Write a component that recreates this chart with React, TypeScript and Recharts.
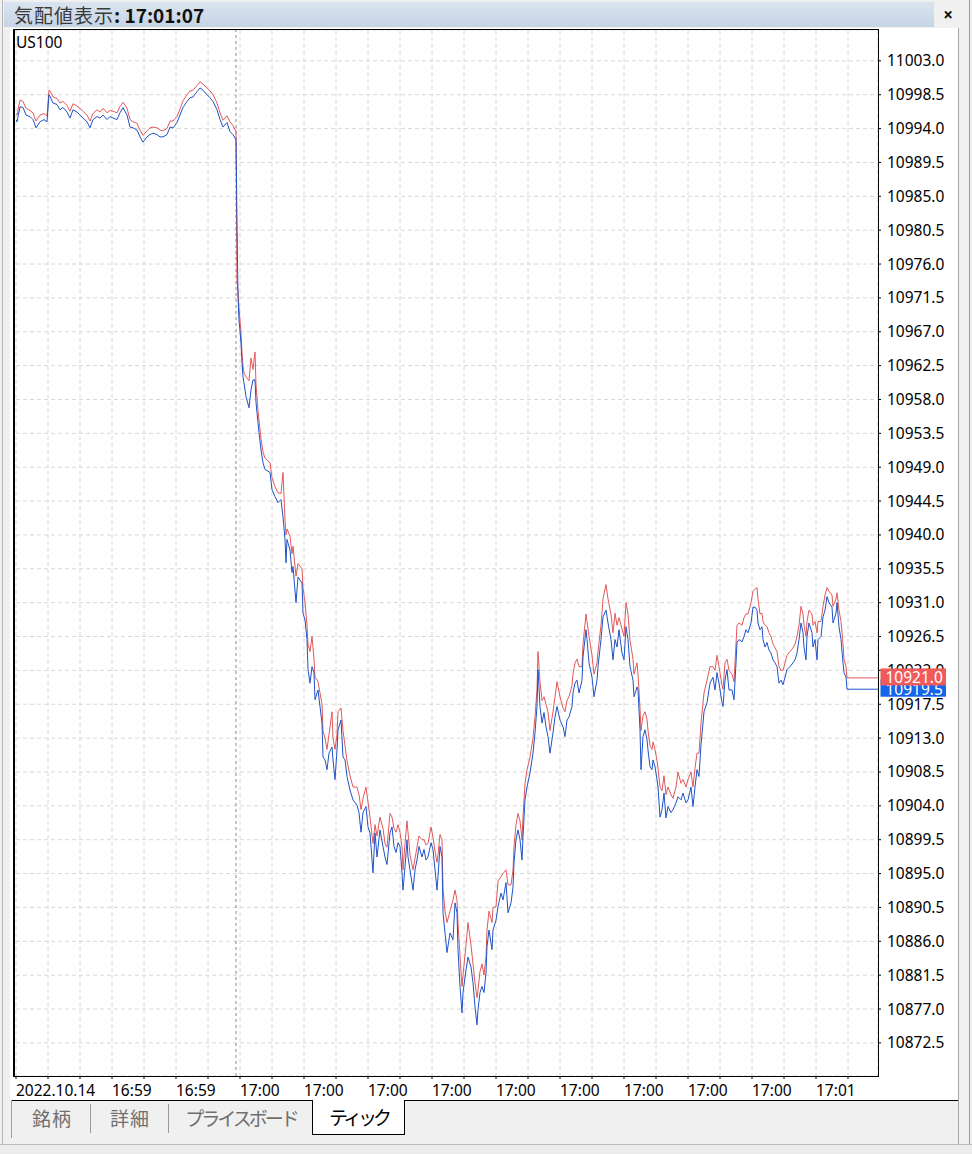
import React from 'react';
import { LineChart, Line, XAxis, YAxis, CartesianGrid, ReferenceLine } from 'recharts';

const FONT = '"Noto Sans", "Open Sans", sans-serif';
const CJK = '"Noto Sans CJK JP", "Noto Sans", sans-serif';

// tick number (sequence position of each sampled quote)
const tickNo = [
  0, 1, 4, 7, 10, 14, 17, 20, 24, 28,
  31, 33, 34, 37, 41, 44, 47, 51, 54, 57,
  61, 64, 67, 71, 74, 77, 81, 84, 87, 91,
  94, 97, 101, 104, 107, 111, 114, 117, 121, 124,
  127, 131, 134, 137, 141, 144, 147, 151, 154, 157,
  161, 164, 167, 171, 174, 177, 181, 184, 187, 191,
  194, 197, 201, 204, 207, 211, 214, 217, 220, 221,
  222, 223, 225, 226, 227, 228, 230, 233, 235, 237,
  239, 240, 242, 243, 245, 247, 249, 254, 256, 259,
  262, 265, 267, 269, 270, 271, 274, 276, 277, 280,
  282, 286, 287, 289, 291, 292, 294, 296, 298, 299,
  301, 302, 304, 306, 307, 309, 311, 313, 316, 317,
  319, 321, 322, 325, 327, 329, 331, 334, 337, 341,
  343, 345, 347, 350, 352, 354, 357, 359, 361, 364,
  367, 369, 371, 374, 376, 378, 380, 382, 384, 386,
  387, 389, 391, 392, 394, 397, 399, 401, 403, 406,
  408, 410, 412, 415, 417, 419, 421, 422, 424, 426,
  427, 429, 431, 434, 437, 439, 441, 442, 444, 446,
  447, 450, 452, 455, 457, 459, 461, 462, 464, 466,
  468, 470, 471, 473, 476, 477, 480, 482, 485, 487,
  490, 492, 495, 497, 498, 500, 502, 504, 506, 507,
  509, 511, 514, 517, 519, 521, 522, 524, 526, 528,
  530, 532, 534, 537, 539, 541, 544, 547, 549, 551,
  553, 556, 557, 559, 561, 563, 566, 567, 570, 571,
  573, 576, 578, 581, 582, 585, 587, 590, 592, 595,
  597, 599, 601, 603, 606, 608, 610, 612, 614, 617,
  618, 621, 622, 624, 625, 627, 629, 631, 632, 634,
  636, 637, 639, 641, 642, 644, 646, 648, 650, 652,
  655, 657, 660, 662, 665, 667, 670, 672, 675, 677,
  679, 681, 683, 685, 688, 691, 694, 697, 699, 701,
  703, 706, 707, 709, 711, 713, 716, 718, 720, 721,
  723, 726, 728, 730, 732, 735, 737, 739, 741, 742,
  744, 746, 747, 749, 751, 753, 755, 757, 759, 761,
  763, 765, 767, 769, 771, 774, 777, 779, 781, 783,
  785, 787, 788, 790, 791, 793, 796, 797, 799, 801,
  802, 805, 807, 809, 811, 813, 816, 817, 820, 821,
  823, 825, 827, 828, 830, 831,
];

const bidPrice = [
  10995.2, 10994.9, 10996.9, 10996.8, 10995.8, 10995.6, 10995.2, 10994.1, 10994.9, 10995.2,
  10994.9, 10998.5, 10998.3, 10997.4, 10997.2, 10996.5, 10996.8, 10996.2, 10995.4, 10996.5,
  10996.2, 10995.8, 10995.4, 10994.9, 10994.1, 10995.2, 10995.6, 10995.4, 10995.8, 10995.2,
  10995.6, 10995.4, 10995.2, 10996.1, 10996.8, 10995.8, 10994.2, 10994.1, 10993.8, 10992.9,
  10992.2, 10992.9, 10993.2, 10993.4, 10993.2, 10992.9, 10992.9, 10993.2, 10994.2, 10994.1,
  10994.8, 10995.8, 10996.8, 10997.6, 10998.1, 10998.2, 10998.9, 10999.4, 10999.1, 10998.5,
  10998.1, 10997.6, 10996.5, 10995.2, 10994.2, 10994.8, 10993.6, 10993.2, 10992.5, 10981.5,
  10971.6, 10968.6, 10965.5, 10962.9, 10961.0, 10960.2, 10958.4, 10956.9, 10959.3, 10960.6,
  10960.6, 10957.6, 10954.9, 10953.6, 10951.3, 10949.6, 10948.7, 10948.3, 10946.0, 10945.1,
  10944.3, 10944.7, 10942.4, 10939.4, 10936.3, 10939.4, 10938.0, 10935.0, 10935.8, 10931.0,
  10934.4, 10933.6, 10929.6, 10928.7, 10926.1, 10922.1, 10920.3, 10922.5, 10921.7, 10918.1,
  10919.0, 10919.4, 10917.2, 10915.0, 10910.5, 10910.1, 10908.8, 10911.0, 10911.8, 10910.1,
  10907.5, 10911.4, 10914.1, 10915.4, 10910.5, 10910.1, 10907.9, 10906.1, 10904.8, 10904.1,
  10903.1, 10900.5, 10903.1, 10903.9, 10901.2, 10900.4, 10895.1, 10900.4, 10897.2, 10900.8,
  10898.6, 10897.2, 10896.2, 10900.4, 10901.2, 10898.6, 10897.8, 10899.1, 10898.6, 10895.1,
  10892.8, 10895.9, 10899.5, 10897.2, 10895.5, 10892.8, 10895.5, 10896.8, 10898.6, 10897.2,
  10898.2, 10896.8, 10897.2, 10899.1, 10898.2, 10895.5, 10892.8, 10894.6, 10898.6, 10897.2,
  10889.8, 10887.1, 10884.5, 10887.1, 10886.2, 10891.1, 10889.8, 10884.9, 10880.0, 10876.5,
  10879.2, 10882.2, 10883.9, 10882.6, 10880.5, 10877.3, 10874.9, 10876.9, 10879.2, 10880.0,
  10879.2, 10881.8, 10885.3, 10887.5, 10884.9, 10887.5, 10888.8, 10890.6, 10892.4, 10891.5,
  10893.8, 10889.8, 10891.1, 10893.2, 10896.4, 10899.5, 10900.8, 10899.5, 10896.8, 10899.9,
  10904.8, 10906.5, 10908.4, 10911.0, 10913.7, 10917.2, 10922.1, 10917.2, 10915.0, 10916.4,
  10914.5, 10913.2, 10911.0, 10913.7, 10915.8, 10917.2, 10915.4, 10914.5, 10913.2, 10915.4,
  10915.8, 10917.2, 10919.0, 10920.3, 10920.7, 10919.0, 10920.7, 10923.8, 10927.4, 10926.1,
  10923.0, 10921.1, 10918.5, 10920.7, 10922.5, 10926.1, 10929.1, 10930.0, 10928.3, 10926.1,
  10923.4, 10926.1, 10925.1, 10927.4, 10924.3, 10923.4, 10927.8, 10926.1, 10922.5, 10920.7,
  10918.5, 10919.8, 10919.4, 10914.1, 10908.8, 10913.2, 10914.1, 10912.8, 10911.4, 10909.2,
  10908.8, 10910.1, 10909.2, 10907.5, 10906.5, 10902.5, 10903.5, 10905.7, 10902.4, 10903.9,
  10903.1, 10903.5, 10904.4, 10905.2, 10904.8, 10905.7, 10904.4, 10904.8, 10906.5, 10903.9,
  10906.5, 10908.8, 10907.9, 10912.1, 10916.5, 10917.7, 10920.3, 10921.1, 10919.4, 10921.7,
  10920.3, 10917.7, 10917.2, 10920.7, 10922.1, 10919.4, 10919.4, 10918.1, 10923.0, 10925.7,
  10926.1, 10925.8, 10926.5, 10927.4, 10927.0, 10928.3, 10930.4, 10930.4, 10930.0, 10928.3,
  10927.4, 10927.8, 10926.1, 10925.1, 10925.7, 10924.7, 10924.3, 10923.4, 10923.0, 10922.5,
  10920.3, 10920.7, 10920.1, 10921.1, 10922.1, 10922.5, 10923.0, 10923.4, 10924.3, 10926.1,
  10928.3, 10927.0, 10925.1, 10923.4, 10926.5, 10928.3, 10927.0, 10925.1, 10926.1, 10923.4,
  10926.1, 10926.5, 10929.1, 10930.0, 10931.8, 10931.0, 10930.4, 10928.3, 10929.6, 10931.0,
  10927.8, 10926.1, 10923.0, 10921.7, 10921.1, 10919.5,
];

const askPrice = [
  10996.0, 10995.8, 10997.8, 10997.6, 10996.7, 10996.4, 10996.1, 10995.0, 10995.8, 10996.0,
  10995.7, 10999.1, 10999.0, 10998.2, 10998.0, 10997.4, 10997.6, 10997.1, 10996.3, 10997.3,
  10997.0, 10996.7, 10996.3, 10995.8, 10995.0, 10996.0, 10996.5, 10996.2, 10996.7, 10996.1,
  10996.4, 10996.3, 10996.1, 10996.9, 10997.5, 10996.7, 10995.2, 10994.9, 10994.7, 10993.8,
  10993.1, 10993.7, 10994.1, 10994.2, 10994.1, 10993.8, 10993.7, 10994.0, 10995.0, 10995.0,
  10995.6, 10996.6, 10997.7, 10998.5, 10999.0, 10999.1, 10999.7, 11000.2, 10999.9, 10999.4,
  10999.0, 10998.5, 10997.4, 10996.1, 10995.1, 10995.7, 10994.9, 10994.4, 10993.6, 10973.5,
  10972.5, 10970.2, 10966.8, 10964.2, 10962.5, 10961.5, 10961.0, 10960.5, 10963.5, 10962.0,
  10964.3, 10960.0, 10956.5, 10955.2, 10952.8, 10951.0, 10950.2, 10949.6, 10947.6, 10946.4,
  10945.6, 10945.5, 10948.3, 10942.0, 10940.0, 10940.8, 10939.8, 10937.5, 10938.5, 10934.5,
  10936.2, 10935.5, 10933.0, 10931.0, 10928.0, 10925.5, 10924.5, 10926.5, 10923.5, 10921.0,
  10920.8, 10920.5, 10919.0, 10917.5, 10914.0, 10913.0, 10911.5, 10913.5, 10916.5, 10913.0,
  10911.5, 10913.5, 10916.5, 10917.0, 10914.0, 10912.0, 10910.0, 10908.0, 10906.5, 10906.5,
  10905.5, 10903.5, 10905.0, 10906.5, 10904.5, 10902.5, 10899.0, 10901.5, 10900.0, 10902.5,
  10901.0, 10899.0, 10898.5, 10903.0, 10902.5, 10901.0, 10900.5, 10901.5, 10900.5, 10898.5,
  10895.5, 10899.0, 10902.0, 10900.5, 10897.5, 10895.5, 10897.0, 10898.5, 10900.0, 10899.5,
  10899.5, 10898.8, 10899.0, 10901.2, 10899.8, 10898.0, 10896.5, 10897.5, 10900.2, 10899.5,
  10893.0, 10890.0, 10888.5, 10890.0, 10891.5, 10892.8, 10891.5, 10888.5, 10884.0, 10880.0,
  10881.5, 10885.5, 10888.5, 10885.5, 10883.0, 10880.5, 10878.5, 10879.5, 10882.0, 10883.0,
  10881.5, 10884.0, 10887.5, 10890.0, 10888.5, 10890.5, 10890.6, 10894.0, 10894.6, 10895.0,
  10895.5, 10893.5, 10893.5, 10895.5, 10898.6, 10901.5, 10903.0, 10902.0, 10899.5, 10902.5,
  10907.0, 10908.8, 10910.5, 10913.0, 10915.8, 10919.5, 10924.5, 10920.5, 10918.0, 10918.5,
  10917.5, 10916.5, 10914.0, 10916.5, 10918.5, 10920.5, 10918.5, 10917.0, 10916.5, 10918.0,
  10918.5, 10920.0, 10921.5, 10923.0, 10923.5, 10922.5, 10922.5, 10925.5, 10929.5, 10928.5,
  10926.5, 10924.0, 10921.5, 10923.0, 10924.5, 10928.0, 10931.5, 10933.4, 10931.5, 10929.5,
  10927.0, 10929.6, 10928.0, 10929.0, 10927.5, 10926.5, 10931.0, 10929.5, 10926.0, 10923.5,
  10921.5, 10923.0, 10921.5, 10917.0, 10914.0, 10916.0, 10916.5, 10915.5, 10914.0, 10912.0,
  10911.5, 10912.5, 10911.5, 10910.0, 10909.0, 10906.5, 10906.0, 10908.0, 10905.5, 10906.5,
  10905.5, 10905.0, 10906.5, 10908.5, 10907.0, 10907.5, 10906.5, 10907.5, 10908.5, 10906.5,
  10909.0, 10911.0, 10911.0, 10915.0, 10919.0, 10920.7, 10922.5, 10922.5, 10922.0, 10924.0,
  10922.5, 10920.0, 10919.5, 10923.0, 10923.5, 10922.0, 10921.5, 10920.5, 10925.5, 10928.0,
  10928.3, 10928.0, 10929.0, 10929.5, 10929.5, 10931.0, 10932.5, 10932.8, 10933.0, 10931.5,
  10929.5, 10929.6, 10928.5, 10928.0, 10927.8, 10927.0, 10926.5, 10925.5, 10925.0, 10924.5,
  10922.5, 10922.0, 10922.0, 10923.0, 10924.0, 10924.5, 10925.0, 10925.5, 10926.5, 10928.0,
  10930.5, 10929.5, 10928.0, 10926.5, 10928.5, 10930.0, 10929.5, 10928.0, 10928.5, 10927.0,
  10928.5, 10928.5, 10930.5, 10932.0, 10933.0, 10932.5, 10932.0, 10930.5, 10931.5, 10932.3,
  10930.0, 10928.5, 10925.5, 10923.5, 10922.5, 10921.0,
];

const priceTicks = [
  11003.0, 10998.5, 10994.0, 10989.5, 10985.0, 10980.5, 10976.0, 10971.5, 10967.0, 10962.5,
  10958.0, 10953.5, 10949.0, 10944.5, 10940.0, 10935.5, 10931.0, 10926.5, 10922.0, 10917.5,
  10913.0, 10908.5, 10904.0, 10899.5, 10895.0, 10890.5, 10886.0, 10881.5, 10877.0, 10872.5,
];

const timeTicks = [
  0, 32, 64, 96, 128, 160, 192, 224, 256, 288, 320, 352, 384, 416,
  448, 480, 512, 544, 576, 608, 640, 672, 704, 736, 768, 800, 832,
];

const timeLabels = [
  '2022.10.14', '', '', '16:59', '', '16:59', '', '17:00', '', '17:00', '', '17:00', '', '17:00',
  '', '17:00', '', '17:00', '', '17:00', '', '17:00', '', '17:00', '', '17:01', '',
];

const TICK_MAX = 862;
const PRICE_MIN = 10868.1;
const PRICE_MAX = 11007.1;
const SESSION_SEPARATOR = 220;

const rows = tickNo.map((t, i) => ({ tick: t, bid: bidPrice[i], ask: askPrice[i] }));
const lastTick = tickNo[tickNo.length - 1];
const lastBid = bidPrice[bidPrice.length - 1];
const lastAsk = askPrice[askPrice.length - 1];

const RED = '#e2585a';
const BLUE = '#1f52c8';

const TimeTick = (props: any) => {
  const { x, y, payload } = props;
  const idx = timeTicks.indexOf(payload.value);
  const label = idx >= 0 ? timeLabels[idx] : '';
  if (!label) return null;
  return (
    <text x={x} y={y} dy={15} textAnchor="start" fill="#000" fontSize={15.5} fontFamily={FONT}>
      {label}
    </text>
  );
};

const PriceTag = (props: any) => {
  const { viewBox, text, fill } = props;
  if (!viewBox) return null;
  const x = viewBox.x + viewBox.width + 2.5;
  const y = viewBox.y;
  return (
    <g>
      <rect x={x} y={y - 9.5} width={65.5} height={17} fill={fill} />
      <text x={x + 5} y={y + 5.5} fill="#fff" fontSize={15.5} fontFamily={FONT}>
        {text}
      </text>
    </g>
  );
};

export default function App() {
  return (
    <div
      style={{
        position: 'absolute',
        left: 0,
        top: 0,
        width: 972,
        height: 1154,
        background: '#f0f0f0',
        overflow: 'hidden',
        fontFamily: FONT,
      }}
    >
      {/* white panel */}
      <div style={{ position: 'absolute', left: 10, top: 28, width: 948, height: 1072, background: '#fff' }} />
      {/* left outer border */}
      <div style={{ position: 'absolute', left: 2, top: 0, width: 1, height: 1145, background: '#b4b4b4' }} />
      {/* right borders */}
      <div style={{ position: 'absolute', left: 958, top: 28, width: 1, height: 1116, background: '#a8a8a8' }} />
      <div style={{ position: 'absolute', left: 969, top: 0, width: 1, height: 1145, background: '#9a9a9a' }} />
      {/* bottom border */}
      <div style={{ position: 'absolute', left: 0, top: 1144, width: 972, height: 1, background: '#bcbcbc' }} />
      <div style={{ position: 'absolute', left: 0, top: 1145, width: 972, height: 9, background: '#ececec' }} />

      <div style={{ position: 'absolute', left: 0, top: 0 }}>
        <LineChart
          width={972}
          height={1154}
          data={rows}
          margin={{ top: 30, right: 0, bottom: 0, left: 16 }}
        >
          <CartesianGrid stroke="#d8d8d8" strokeDasharray="4 3" />
          <XAxis
            dataKey="tick"
            type="number"
            domain={[0, TICK_MAX]}
            ticks={timeTicks}
            interval={0}
            allowDataOverflow
            axisLine={false}
            tickLine={{ stroke: '#000' }}
            tickSize={3}
            tickMargin={2}
            height={78}
            tick={<TimeTick />}
          />
          <YAxis
            orientation="right"
            type="number"
            domain={[PRICE_MIN, PRICE_MAX]}
            ticks={priceTicks}
            interval={0}
            allowDataOverflow
            width={94}
            axisLine={false}
            tickLine={{ stroke: '#000' }}
            tickSize={3}
            tickMargin={6}
            tick={{ fill: '#000', fontSize: 15.5, fontFamily: FONT }}
            tickFormatter={(v: number) => v.toFixed(1)}
          />
          <ReferenceLine x={SESSION_SEPARATOR} stroke="#8a8a8a" strokeDasharray="3 3" />
          <Line
            type="linear"
            dataKey="ask"
            stroke={RED}
            strokeWidth={1}
            dot={false}
            activeDot={false}
            isAnimationActive={false}
          />
          <Line
            type="linear"
            dataKey="bid"
            stroke={BLUE}
            strokeWidth={1}
            dot={false}
            activeDot={false}
            isAnimationActive={false}
          />
        </LineChart>
      </div>

      {/* overlay chart: current price lines and tags drawn above the price axis */}
      <div style={{ position: 'absolute', left: 0, top: 0, pointerEvents: 'none' }}>
        <LineChart
          width={972}
          height={1154}
          data={rows}
          margin={{ top: 30, right: 94, bottom: 78, left: 16 }}
        >
          <XAxis dataKey="tick" type="number" domain={[0, TICK_MAX]} allowDataOverflow hide />
          <YAxis type="number" domain={[PRICE_MIN, PRICE_MAX]} allowDataOverflow hide />
          <ReferenceLine
            segment={[{ x: lastTick, y: lastBid }, { x: TICK_MAX, y: lastBid }]}
            stroke={BLUE}
            strokeWidth={1}
            label={<PriceTag text={lastBid.toFixed(1)} fill="#1565eb" />}
          />
          <ReferenceLine
            segment={[{ x: lastTick, y: lastAsk }, { x: TICK_MAX, y: lastAsk }]}
            stroke={RED}
            strokeWidth={1}
            label={<PriceTag text={lastAsk.toFixed(1)} fill="#ef5b5b" />}
          />
        </LineChart>
      </div>

      {/* chart frame */}
      <div
        style={{
          position: 'absolute',
          left: 13,
          top: 29,
          width: 866,
          height: 1048,
          boxSizing: 'border-box',
          borderTop: '1px solid #000',
          borderRight: '1px solid #000',
          borderBottom: '1px solid #000',
          borderLeft: '2px solid #000',
          pointerEvents: 'none',
        }}
      />
      <div style={{ position: 'absolute', left: 16, top: 32, fontSize: 15.5, fontFamily: FONT, color: '#000', lineHeight: '20px' }}>
        US100
      </div>

      {/* title bar */}
      <div
        style={{
          position: 'absolute',
          left: 4,
          top: 2,
          width: 930,
          height: 25,
          background: 'linear-gradient(#dae4f0, #c6d4e6)',
        }}
      />
      <div
        style={{
          position: 'absolute',
          left: 14,
          top: 1,
          height: 27,
          lineHeight: '27px',
          fontSize: 19,
          fontFamily: CJK,
          color: '#3a3a3a',
          whiteSpace: 'nowrap',
        }}
      >
        <span style={{ letterSpacing: 1 }}>気配値表示</span>
        <span style={{ fontWeight: 700, color: '#111' }}>: 17:01:07</span>
      </div>
      <div
        style={{
          position: 'absolute',
          left: 939,
          top: 2,
          width: 18,
          height: 25,
          lineHeight: '25px',
          textAlign: 'center',
          fontSize: 17,
          fontWeight: 700,
          fontFamily: FONT,
          color: '#111',
        }}
      >
        ×
      </div>

      {/* tabs */}
      <div style={{ position: 'absolute', left: 11, top: 1100, width: 947, height: 1, background: '#000' }} />
      <div style={{ position: 'absolute', left: 11, top: 1100, width: 1, height: 38, background: '#a0a0a0' }} />
      <div style={{ position: 'absolute', left: 90, top: 1104, width: 1, height: 29, background: '#9c9c9c' }} />
      <div style={{ position: 'absolute', left: 168, top: 1104, width: 1, height: 29, background: '#9c9c9c' }} />
      {[
        { label: '銘柄', cx: 52, ls: 1 },
        { label: '詳細', cx: 130, ls: 1 },
        { label: 'プライスボード', cx: 241, ls: -3 },
      ].map((t) => (
        <div
          key={t.label}
          style={{
            position: 'absolute',
            left: t.cx - 80,
            top: 1101,
            width: 160,
            height: 33,
            lineHeight: '33px',
            textAlign: 'center',
            fontSize: 19,
            fontFamily: CJK,
            color: '#6f6f6f',
            letterSpacing: t.ls,
            whiteSpace: 'nowrap',
          }}
        >
          {t.label}
        </div>
      ))}
      <div
        style={{
          position: 'absolute',
          left: 312,
          top: 1100,
          width: 93,
          height: 35,
          boxSizing: 'border-box',
          background: '#fff',
          borderLeft: '1px solid #000',
          borderRight: '1px solid #000',
          borderBottom: '1px solid #000',
          textAlign: 'center',
          lineHeight: '33px',
          fontSize: 19,
          fontFamily: CJK,
          color: '#000',
          letterSpacing: -4,
          whiteSpace: 'nowrap',
        }}
      >
        ティック
      </div>
    </div>
  );
}
